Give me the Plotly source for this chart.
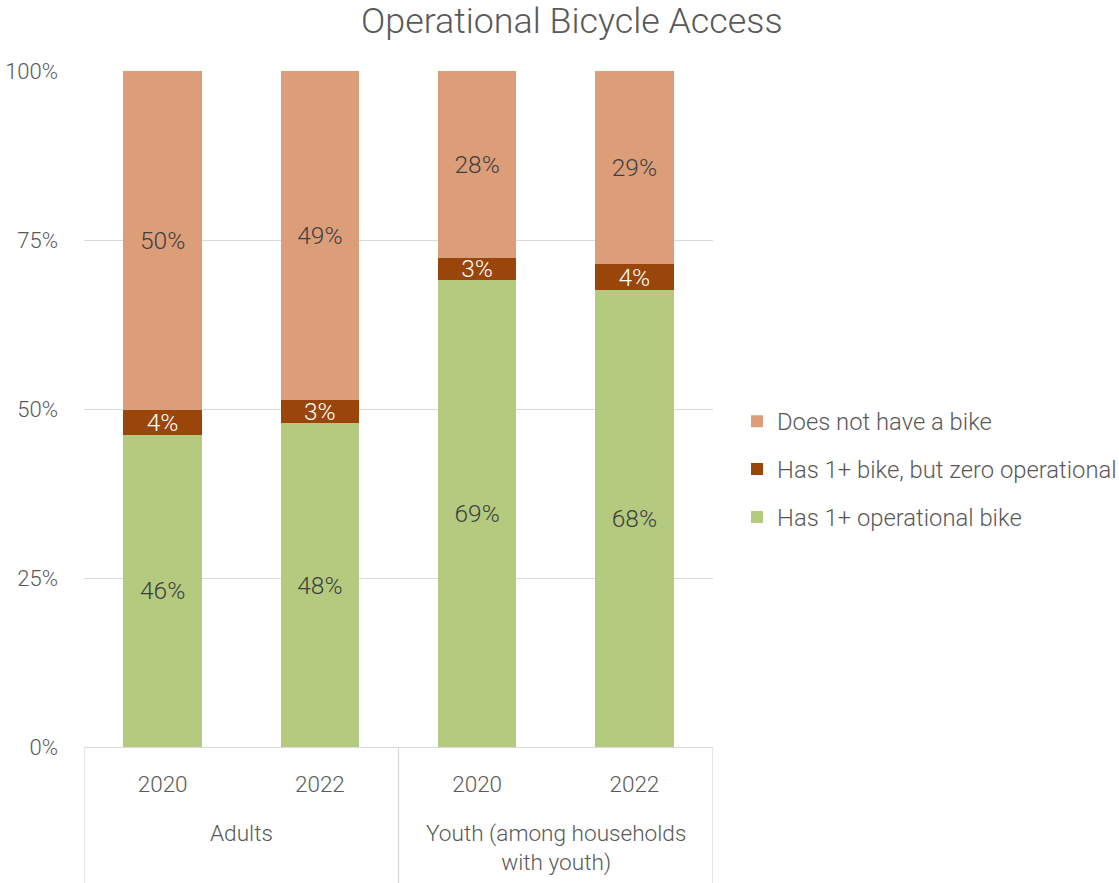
import plotly.graph_objects as go

# Share of respondents (%) by group and survey year
groups = ["Adults", "Adults", "Youth (among households<br>with youth)", "Youth (among households<br>with youth)"]
years = ["2020", "2022", "2020", "2022"]
operational = [46.2, 47.9, 69.1, 67.6]
zero_operational = [3.7, 3.4, 3.3, 3.8]
no_bike = [50.1, 48.7, 27.6, 28.6]

series_names = ["Has 1+ operational bike", "Has 1+ bike, but zero operational", "Does not have a bike"]
series_values = [operational, zero_operational, no_bike]
series_colors = ["#B3CA7F", "#9A4509", "#DC9E78"]
label_colors = ["#404040", "#FFFFFF", "#404040"]
legend_ranks = [3, 2, 1]

FONT = "Roboto, Open Sans, sans-serif"
WEIGHT = 300
GREY = "#595959"
LINE = "#D9D9D9"

x_pos = list(range(len(years)))

fig = go.Figure()
for i, (name, vals, col, lc) in enumerate(zip(series_names, series_values, series_colors, label_colors)):
    fig.add_trace(go.Bar(
        x=x_pos,
        y=[v / 100 for v in vals],
        name=name,
        marker=dict(color=col, line=dict(width=0)),
        text=[f"{round(v):d}%" for v in vals],
        textposition="inside",
        insidetextanchor="middle",
        textfont=dict(color=lc, size=24.5, family=FONT, weight=WEIGHT),
        legendgroup=f"g{i}",
        legendrank=legend_ranks[i],
        hoverinfo="skip",
    ))

shapes = []
# group dividers below the category axis
for xd in [-0.5, 1.5, 3.5]:
    shapes.append(dict(type="line", xref="x", yref="paper", x0=xd, x1=xd, y0=0, y1=-0.21,
                       line=dict(color=LINE, width=1.3)))

annotations = []
group_labels = []
for g in groups:
    if g not in group_labels:
        group_labels.append(g)
for g in group_labels:
    idx = [k for k, gg in enumerate(groups) if gg == g]
    xc = sum(idx) / len(idx)
    annotations.append(dict(x=xc, xref="x", y=-0.1045, yref="paper", yanchor="top",
                            text=g, showarrow=False,
                            font=dict(size=22.6, color=GREY, family=FONT, weight=WEIGHT),
                            align="center"))

fig.update_layout(
    width=1119, height=883,
    barmode="stack",
    bargap=0.5,
    plot_bgcolor="white",
    paper_bgcolor="white",
    margin=dict(l=84, r=406, t=71, b=136, autoexpand=False),
    title=dict(text="Operational Bicycle Access", x=0.511, xref="container", xanchor="center",
               y=0.977, yanchor="middle", yref="container",
               font=dict(size=35.8, color=GREY, family=FONT, weight=WEIGHT)),
    font=dict(family=FONT, color=GREY),
    legend=dict(x=1.0382, xanchor="left", y=0.411, yanchor="middle",
                traceorder="grouped", tracegroupgap=14,
                font=dict(size=23.8, color=GREY, family=FONT, weight=WEIGHT),
                itemwidth=30, bgcolor="rgba(0,0,0,0)"),
    uniformtext=dict(minsize=24.5, mode="show"),
    shapes=shapes,
    annotations=annotations,
    showlegend=True,
)
fig.update_xaxes(
    range=[-0.5, 3.5],
    tickmode="array", tickvals=x_pos, ticktext=years,
    tickfont=dict(size=22.5, color=GREY, family=FONT, weight=WEIGHT),
    showgrid=False, showline=True, linecolor=LINE, linewidth=1.3,
    ticks="", ticklabelstandoff=17, zeroline=False, automargin=False,
)
fig.update_yaxes(
    range=[0, 1],
    tickvals=[0, 0.25, 0.5, 0.75, 1.0],
    tickformat=".0%",
    tickfont=dict(size=22, color=GREY, family=FONT, weight=WEIGHT),
    showgrid=True, gridcolor=LINE, gridwidth=1.3,
    showline=False, zeroline=False, ticks="", ticklabelstandoff=25, automargin=False,
)

fig.write_html("out.html")
